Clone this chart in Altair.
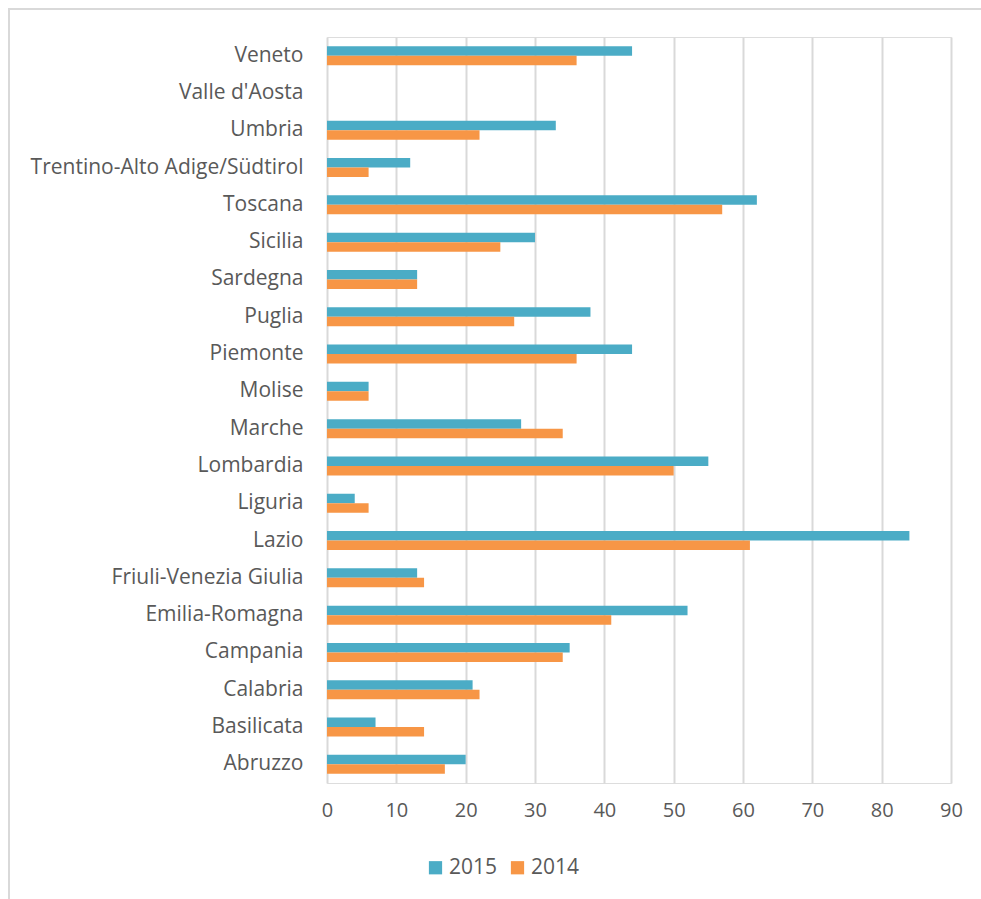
import altair as alt
import pandas as pd

regions = ["Veneto", "Valle d'Aosta", "Umbria", "Trentino-Alto Adige/Südtirol", "Toscana",
           "Sicilia", "Sardegna", "Puglia", "Piemonte", "Molise", "Marche", "Lombardia",
           "Liguria", "Lazio", "Friuli-Venezia Giulia", "Emilia-Romagna", "Campania",
           "Calabria", "Basilicata", "Abruzzo"]
v2015 = [44, 0, 33, 12, 62, 30, 13, 38, 44, 6, 28, 55, 4, 84, 13, 52, 35, 21, 7, 20]
v2014 = [36, 0, 22, 6, 57, 25, 13, 27, 36, 6, 34, 50, 6, 61, 14, 41, 34, 22, 14, 17]
years = ["2015", "2014"]
colors = ["#4BACC6", "#F79646"]
x_ticks = [0, 10, 20, 30, 40, 50, 60, 70, 80, 90]

rows = []
for r, a, b in zip(regions, v2015, v2014):
    rows.append({"region": r, "year": "2015", "value": a})
    rows.append({"region": r, "year": "2014", "value": b})
df = pd.DataFrame(rows)

FONT = "Open Sans"
TXT = "#595959"

bars = alt.Chart(df).mark_bar().encode(
    y=alt.Y("region:N", sort=regions, title=None,
            scale=alt.Scale(paddingInner=0.49, paddingOuter=0.245),
            axis=alt.Axis(domain=False, ticks=False, labelPadding=24, labelFontSize=21,
                          labelFont=FONT, labelColor=TXT, labelLimit=400, grid=False)),
    yOffset=alt.YOffset("year:N", sort=years),
    x=alt.X("value:Q", title=None,
            scale=alt.Scale(domain=[0, 90], nice=False),
            axis=alt.Axis(values=x_ticks, domain=False, ticks=False, labelPadding=17,
                          labelFlush=False,
                          labelFontSize=20, labelFont=FONT, labelColor=TXT,
                          grid=True, gridColor="#D9D9D9", gridWidth=2)),
    color=alt.Color("year:N", sort=years,
                    scale=alt.Scale(domain=years, range=colors),
                    legend=alt.Legend(title=None, orient="none", direction="horizontal",
                                      legendX=98, legendY=820, symbolType="square",
                                      symbolSize=175, symbolStrokeWidth=0,
                                      labelFontSize=21, labelFont=FONT, labelColor=TXT,
                                      columnPadding=9, labelOffset=3)),
)

frame = alt.Chart(pd.DataFrame({"k": [0]})).mark_rect(
    fill=None, stroke="#D9D9D9", strokeWidth=2
).encode(
    x=alt.value(-318), x2=alt.value(670), y=alt.value(-28), y2=alt.value(880)
)

chart = alt.layer(frame, bars).properties(
    width=624, height=746,
    autosize=alt.AutoSizeParams(type="none"),
    padding={"left": 327, "top": 37, "right": 30, "bottom": 116},
).configure_view(stroke=None).configure(background="white")

chart.save("out.html", embed_options={"renderer": "svg", "actions": False})
